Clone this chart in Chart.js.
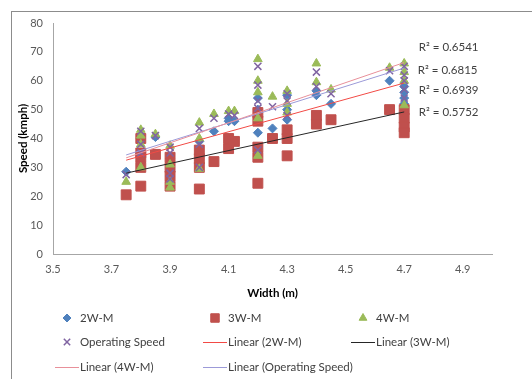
<!DOCTYPE html>
<html>
<head>
<meta charset="utf-8">
<script src="https://cdn.jsdelivr.net/npm/chart.js@4.4.0/dist/chart.umd.min.js"></script>
<style>
  body { margin: 0; background: #fff; overflow: hidden; }
  #wrap { position: relative; width: 532px; height: 379px; }
  #frame { position: absolute; left: 11px; top: 11px; width: 600px; height: 500px; border: 1px solid #8c8c8c; }
  canvas { position: absolute; left: 0; top: 0; }
</style>
</head>
<body>
<div id="wrap">
  <div id="frame"></div>
  <canvas id="speedChart" width="532" height="379"></canvas>
</div>
<script>
// speed vs carriageway width, one list of [width, speed] per vehicle class
var twoWheeler = [
  [3.75, 28.5], [3.8, 35], [3.8, 40], [3.85, 40.5], [3.9, 33], [3.9, 31], [3.9, 27],
  [4.0, 39], [4.0, 32.5], [4.05, 42.5], [4.1, 47], [4.1, 46], [4.12, 46],
  [4.2, 54], [4.2, 50], [4.2, 42], [4.25, 43.5], [4.3, 55], [4.3, 50], [4.3, 46.5],
  [4.4, 56.5], [4.4, 55], [4.45, 52], [4.65, 60], [4.7, 58], [4.7, 56], [4.7, 54], [4.7, 52]
];
var threeWheeler = [
  [3.75, 20.5], [3.8, 40], [3.8, 35], [3.8, 33.5], [3.8, 30], [3.8, 23.5], [3.85, 34.5],
  [3.9, 33.5], [3.9, 30], [3.9, 27], [3.9, 23.5], [4.0, 36], [4.0, 33], [4.0, 30], [4.0, 22.5],
  [4.05, 32], [4.1, 40], [4.1, 36.5], [4.12, 39],
  [4.2, 49], [4.2, 46], [4.2, 37], [4.2, 33.5], [4.2, 24.5], [4.25, 40],
  [4.3, 43], [4.3, 40], [4.3, 34], [4.4, 48], [4.4, 45], [4.45, 46.5],
  [4.65, 50], [4.7, 50], [4.7, 47], [4.7, 44], [4.7, 42]
];
var fourWheeler = [
  [3.75, 25], [3.8, 43], [3.8, 41], [3.8, 38], [3.8, 30], [3.85, 41.5],
  [3.9, 37.5], [3.9, 31], [3.9, 25], [3.9, 23], [4.0, 45.5], [4.0, 40], [4.0, 29.5],
  [4.05, 48.5], [4.1, 49.5], [4.12, 49.5],
  [4.2, 67.5], [4.2, 60], [4.2, 56], [4.2, 47], [4.2, 34], [4.25, 54.5],
  [4.3, 56.5], [4.3, 52], [4.3, 49], [4.4, 66], [4.4, 59.5], [4.45, 57],
  [4.65, 64.5], [4.7, 66], [4.7, 63], [4.7, 60], [4.7, 51.5]
];
var operatingSpeed = [
  [3.75, 27.5], [3.8, 42.5], [3.8, 38], [3.8, 35], [3.85, 41],
  [3.9, 37], [3.9, 35], [3.9, 28], [3.9, 26], [4.0, 43.5], [4.0, 38], [4.0, 30],
  [4.05, 47], [4.1, 48.5], [4.12, 48],
  [4.2, 65], [4.2, 58.5], [4.2, 53], [4.2, 50.5], [4.2, 36], [4.25, 51],
  [4.3, 55.5], [4.3, 53], [4.3, 48], [4.4, 63], [4.4, 58], [4.45, 55.5],
  [4.65, 63.5], [4.7, 65], [4.7, 62], [4.7, 60], [4.7, 57], [4.7, 54]
];

// linear trend lines, read at both ends (x = 3.75 and 4.7)
var trendX = [3.75, 4.7];
var trend2W = [32.5, 59.2];
var trend3W = [28, 49.2];
var trend4W = [33.3, 66.3];
var trendOS = [34.3, 64.4];

var r2Values = ['0.6541', '0.6815', '0.6939', '0.5752'];
var xTickValues = [3.5, 3.7, 3.9, 4.1, 4.3, 4.5, 4.7, 4.9];

var FONT = "Lato, 'Open Sans', sans-serif";

function pts(list) {
  return list.map(function (p) { return { x: p[0], y: p[1] }; });
}
function trend(ys) {
  return trendX.map(function (x, i) { return { x: x, y: ys[i] }; });
}
function trendSet(label, ys, color) {
  return {
    type: 'line', label: label, data: trend(ys), showLine: true,
    borderColor: color, borderWidth: 1, pointRadius: 0, fill: false, order: 0
  };
}

// R² labels + legend in a 3-column grid, as in the Excel original
var extras = {
  id: 'extras',
  afterDraw: function (chart) {
    var ctx = chart.ctx;
    var xs = chart.scales.x, ys = chart.scales.y;
    ctx.save();
    ctx.font = '11.5px ' + FONT;
    ctx.fillStyle = '#404040';
    ctx.textBaseline = 'middle';
    ctx.textAlign = 'left';
    var r2y = [71.7, 63.7, 56.8, 49.2];
    r2Values.forEach(function (v, i) {
      ctx.fillText('R² = ' + v, xs.getPixelForValue(4.75) + (i == 1 ? -1 : 0), ys.getPixelForValue(r2y[i]));
    });

    var colX = [67, 215, 363], rowY = [318, 342, 367];
    chart.data.datasets.forEach(function (ds, i) {
      var cx = colX[i % 3], cy = rowY[Math.floor(i / 3)];
      if (ds.type == 'line') {
        ctx.strokeStyle = ds.borderColor;
        ctx.lineWidth = 1;
        ctx.beginPath();
        ctx.moveTo(cx - 12, cy + 0.5);
        ctx.lineTo(cx + 12, cy + 0.5);
        ctx.stroke();
      } else {
        ctx.fillStyle = ds.backgroundColor;
        ctx.strokeStyle = ds.borderColor;
        ctx.lineWidth = ds.borderWidth;
        Chart.helpers.drawPoint(ctx, {
          pointStyle: ds.pointStyle, radius: ds.legendRadius,
          borderWidth: ds.borderWidth, rotation: 0
        }, cx, cy);
      }
      ctx.fillStyle = '#404040';
      ctx.fillText(ds.label, cx + 13, cy);
    });
    ctx.restore();
  }
};

new Chart(document.getElementById('speedChart'), {
  type: 'scatter',
  data: {
    datasets: [
      { label: '2W-M', data: pts(twoWheeler), pointStyle: 'rectRot', pointRadius: 4.5, legendRadius: 4,
        backgroundColor: '#4F81BD', borderColor: '#4F81BD', borderWidth: 1, order: 4 },
      { label: '3W-M', data: pts(threeWheeler), pointStyle: 'rect', pointRadius: 7, legendRadius: 6,
        backgroundColor: '#C0504D', borderColor: '#C0504D', borderWidth: 1, order: 3 },
      { label: '4W-M', data: pts(fourWheeler), pointStyle: 'triangle', pointRadius: 5, legendRadius: 4.5,
        backgroundColor: '#9BBB59', borderColor: '#9BBB59', borderWidth: 1, order: 2 },
      { label: 'Operating Speed', data: pts(operatingSpeed), pointStyle: 'crossRot', pointRadius: 5, legendRadius: 4.5,
        backgroundColor: '#8064A2', borderColor: '#8064A2', borderWidth: 1.5, order: 1 },
      trendSet('Linear (2W-M)', trend2W, '#f24a45'),
      trendSet('Linear (3W-M)', trend3W, '#262626'),
      trendSet('Linear (4W-M)', trend4W, '#e8909a'),
      trendSet('Linear (Operating Speed)', trendOS, '#9c9ad8')
    ]
  },
  options: {
    responsive: false,
    animation: false,
    layout: { padding: { left: 12, top: 23, right: 40, bottom: 75 } },
    plugins: { legend: { display: false }, tooltip: { enabled: false } },
    scales: {
      x: {
        type: 'linear', min: 3.5, max: 5.0,
        afterBuildTicks: function (axis) {
          axis.ticks = xTickValues.map(function (v) { return { value: v }; });
        },
        afterFit: function (axis) { axis.height = 50; },
        grid: { display: false, drawTicks: false },
        border: { display: true, color: '#a6a6a6' },
        ticks: { padding: 9, color: '#595959', font: { family: FONT, size: 11 },
          callback: function (v) { return v.toFixed(1); } },
        title: { display: true, text: 'Width (m)', color: '#000',
          font: { family: FONT, size: 11.5, weight: 'bold' }, padding: { top: 2, bottom: 4 } }
      },
      y: {
        min: 0, max: 80,
        afterFit: function (axis) { axis.width = 41; },
        grid: { display: false, drawTicks: false },
        border: { display: true, color: '#a6a6a6' },
        ticks: { stepSize: 10, padding: 10, color: '#595959', font: { family: FONT, size: 11 } },
        title: { display: true, text: 'Speed (kmph)', color: '#000',
          font: { family: FONT, size: 11.5, weight: 'bold' }, padding: { top: 4, bottom: 4 } }
      }
    }
  },
  plugins: [extras]
});
</script>
</body>
</html>
